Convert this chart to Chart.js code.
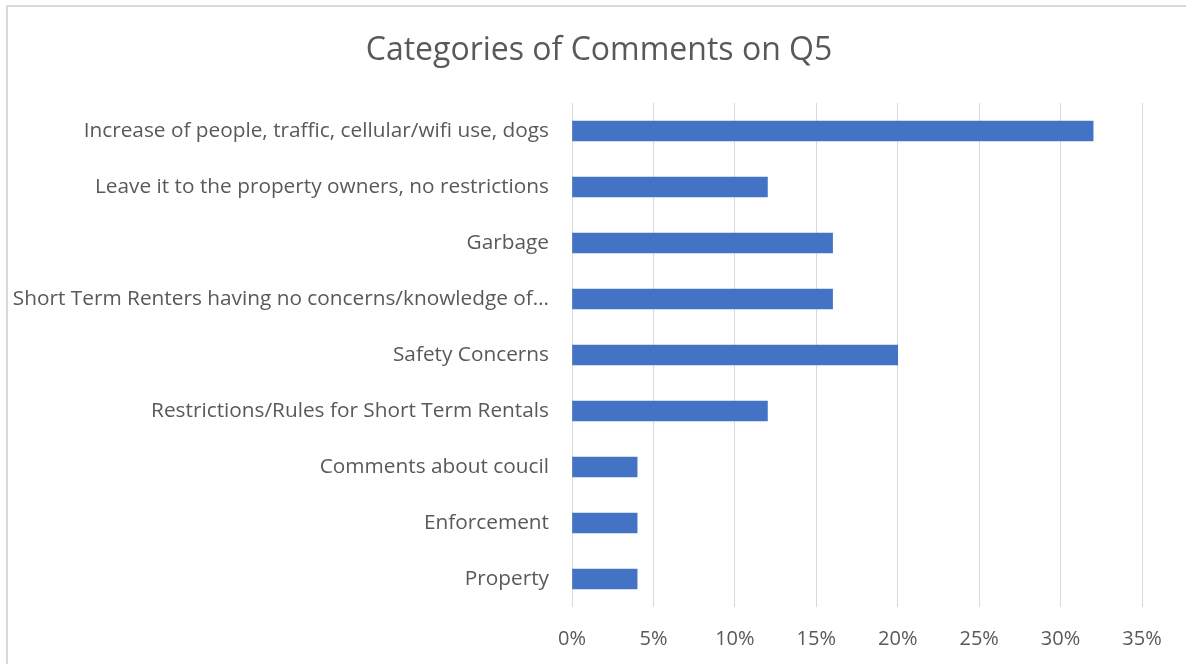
<!DOCTYPE html>
<html>
<head>
<meta charset="utf-8">
<script src="https://cdn.jsdelivr.net/npm/chart.js@4"></script>
<style>
  html, body { margin: 0; padding: 0; background: #ffffff; overflow: hidden; }
  #wrap { position: relative; width: 1186px; height: 664px; }
</style>
</head>
<body>
<div id="wrap"><canvas id="chart" width="1186" height="664"></canvas></div>
<script>
const chartTitle = 'Categories of Comments on Q5';

const categories = [
  'Increase of people, traffic, cellular/wifi use, dogs',
  'Leave it to the property owners, no restrictions',
  'Garbage',
  'Short Term Renters having no concerns/knowledge of\u2026',
  'Safety Concerns',
  'Restrictions/Rules for Short Term Rentals',
  'Comments about coucil',
  'Enforcement',
  'Property'
];

// share of comments, in percent
const shares = [32, 12, 16, 16, 20, 12, 4, 4, 4];

const axisMin = 0;
const axisMax = 35;
const axisStep = 5;

const textColor = '#595959';
const gridColor = '#d9d9d9';
const barColor = '#4472C4';
const fontFamily = '"Open Sans", "Liberation Sans", sans-serif';

// white background plus a light frame that runs off the right and bottom edges
const framePlugin = {
  id: 'frame',
  beforeDraw(chart) {
    const ctx = chart.ctx;
    ctx.save();
    ctx.fillStyle = '#ffffff';
    ctx.fillRect(0, 0, chart.width, chart.height);
    ctx.strokeStyle = '#d9d9d9';
    ctx.lineWidth = 2;
    ctx.strokeRect(7, 6, chart.width + 20, chart.height + 20);
    ctx.restore();
  }
};

// heading centred over the whole frame rather than the plot
const headingPlugin = {
  id: 'heading',
  afterDraw(chart) {
    const ctx = chart.ctx;
    ctx.save();
    ctx.fillStyle = textColor;
    ctx.font = '32px ' + fontFamily;
    ctx.textAlign = 'center';
    ctx.textBaseline = 'alphabetic';
    ctx.fillText(chartTitle, 599, 60);
    ctx.restore();
  }
};

new Chart(document.getElementById('chart'), {
  type: 'bar',
  data: {
    labels: categories,
    datasets: [{
      data: shares,
      backgroundColor: barColor,
      borderWidth: 0,
      barThickness: 20
    }]
  },
  options: {
    indexAxis: 'y',
    responsive: false,
    animation: false,
    layout: { padding: { left: 0, right: 44, top: 103, bottom: 0 } },
    plugins: {
      legend: { display: false },
      tooltip: { enabled: false },
      title: { display: false }
    },
    scales: {
      x: {
        min: axisMin,
        max: axisMax,
        ticks: {
          stepSize: axisStep,
          color: textColor,
          font: { family: fontFamily, size: 20 },
          padding: 20,
          callback: v => v + '%'
        },
        grid: { color: gridColor, lineWidth: 1, drawTicks: false },
        border: { display: false },
        afterFit: s => { s.height = 57; }
      },
      y: {
        ticks: {
          color: textColor,
          font: { family: fontFamily, size: 20.8 },
          padding: 23
        },
        grid: { display: false, drawTicks: false },
        border: { display: false },
        afterFit: s => { s.width = 572; }
      }
    }
  },
  plugins: [framePlugin, headingPlugin]
});
</script>
</body>
</html>
